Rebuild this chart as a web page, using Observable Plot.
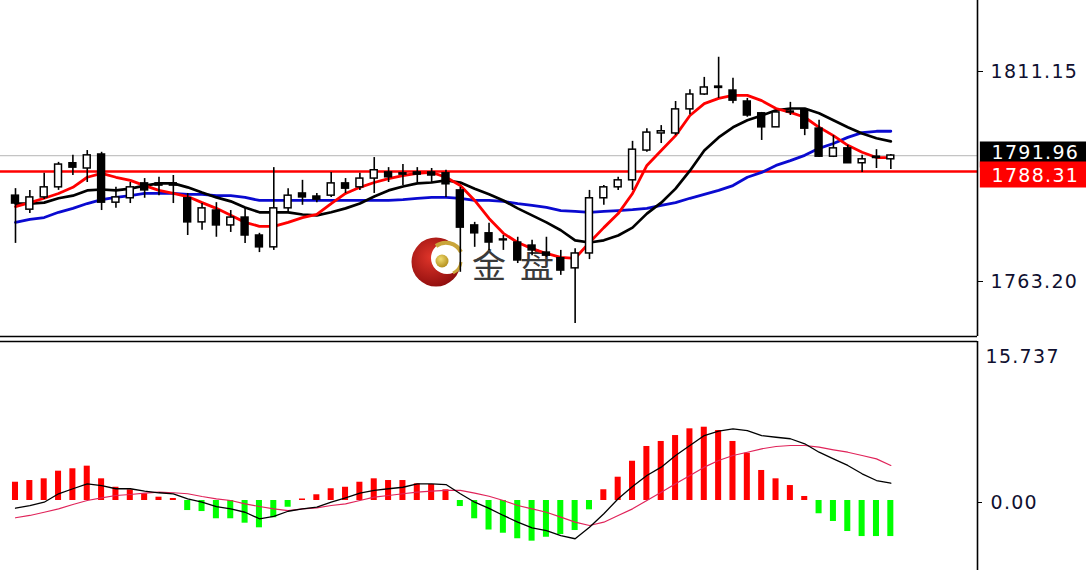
<!DOCTYPE html>
<html>
<head>
<meta charset="utf-8">
<script src="https://cdn.jsdelivr.net/npm/d3@7"></script>
<script src="https://cdn.jsdelivr.net/npm/@observablehq/plot@0.6"></script>
<style>
  html, body { margin: 0; padding: 0; background: #fff; }
  #wrap { position: relative; width: 1086px; height: 570px; overflow: hidden; background: #fff; }
  #wrap svg.plotsvg { display: block; position: relative; z-index: 1; }
  #mark { position: absolute; left: 0; top: 0; z-index: 0; }
</style>
</head>
<body>
<div id="wrap"></div>
<script>
// ---- Price candles ----
const open = [1782.8,1779.6,1782.4,1784.7,1790.2,1789.0,1792.2,1781.2,1782.2,1785.6,
  1785.6,1785.6,1782.2,1776.7,1779.4,1776.0,1777.8,1773.7,1771.0,1779.9,
  1783.3,1782.6,1782.8,1785.6,1784.7,1786.7,1788.1,1787.6,1788.1,1788.1,
  1787.9,1784.0,1776.0,1774.2,1772.6,1772.1,1771.4,1769.8,1768.5,1766.2,
  1769.6,1782.2,1784.7,1786.3,1793.1,1797.0,1797.0,1802.5,1805.9,1807.4,
  1806.8,1804.3,1801.6,1798.4,1802.0,1802.3,1798.1,1791.7,1793.6,1790.2,
  1791.4,1791.1];
const high = [1784.4,1784.0,1787.9,1790.4,1792.0,1793.1,1792.7,1784.7,1785.8,1786.7,
  1787.0,1787.4,1783.3,1781.0,1781.2,1779.4,1779.9,1774.2,1789.2,1784.4,
  1786.3,1783.3,1788.1,1786.7,1787.9,1791.5,1789.2,1789.9,1789.2,1789.0,
  1788.6,1784.7,1776.7,1776.5,1773.7,1773.3,1772.6,1773.3,1770.3,1770.7,
  1784.0,1785.1,1787.0,1795.2,1798.1,1798.8,1804.3,1807.0,1809.8,1814.4,
  1809.6,1805.0,1801.8,1802.3,1804.1,1802.7,1800.0,1796.5,1794.3,1792.0,
  1793.3,1792.2];
const low = [1771.9,1778.7,1781.9,1784.0,1787.4,1785.8,1779.4,1779.9,1781.0,1782.2,
  1782.8,1781.0,1773.7,1774.9,1773.3,1774.4,1771.9,1769.8,1770.3,1779.0,
  1780.6,1781.2,1782.4,1783.3,1784.0,1783.3,1785.8,1785.1,1785.8,1785.6,
  1782.4,1765.3,1771.0,1770.3,1770.3,1767.3,1769.1,1768.7,1764.6,1753.6,
  1768.2,1780.6,1784.0,1784.0,1792.7,1794.7,1796.5,1801.3,1805.7,1805.0,
  1803.8,1800.7,1795.4,1798.4,1801.1,1796.5,1791.5,1791.5,1790.2,1788.1,
  1789.0,1788.8];
const close = [1781.0,1782.4,1784.7,1789.9,1789.2,1792.0,1781.2,1782.4,1784.7,1784.0,
  1785.1,1785.1,1776.7,1779.9,1776.0,1777.8,1773.7,1771.0,1779.9,1782.8,
  1782.4,1781.9,1785.6,1784.4,1786.7,1788.6,1787.0,1787.9,1787.6,1787.4,
  1785.4,1775.5,1774.2,1772.1,1772.8,1768.0,1770.3,1769.1,1765.7,1769.6,
  1782.2,1784.7,1786.3,1793.3,1797.2,1797.5,1802.5,1805.9,1807.5,1807.7,
  1804.5,1801.1,1798.4,1801.8,1801.8,1798.1,1791.7,1793.6,1790.2,1791.1,
  1791.7,1791.96];

// ---- Moving averages ----
const maFast = [1780.3,1781.2,1782.2,1783.3,1784.7,1787.0,1787.9,1787.0,1786.3,1785.1,
  1784.0,1783.3,1782.6,1781.2,1779.9,1778.3,1776.7,1775.8,1775.8,1776.7,
  1777.8,1778.5,1781.0,1783.3,1784.7,1785.8,1786.7,1787.4,1787.9,1788.1,
  1787.0,1785.1,1781.7,1777.6,1774.2,1772.1,1770.7,1769.6,1768.7,1768.5,
  1772.1,1775.5,1778.7,1783.3,1789.7,1793.1,1796.5,1801.1,1803.8,1805.0,
  1805.7,1805.7,1804.5,1802.7,1801.8,1800.7,1798.4,1796.5,1794.3,1792.7,
  1791.5,1791.5];
const maMid = [1781.0,1781.0,1781.2,1782.2,1782.8,1784.0,1784.2,1784.0,1784.4,1785.1,
  1785.6,1785.6,1784.7,1783.5,1782.4,1781.5,1780.1,1779.0,1779.0,1779.0,
  1778.5,1778.3,1779.0,1779.9,1781.0,1782.6,1784.0,1784.9,1785.6,1785.8,
  1786.3,1785.8,1784.4,1783.1,1781.7,1779.9,1778.3,1776.7,1774.9,1772.6,
  1772.1,1772.6,1773.7,1775.5,1778.7,1781.2,1784.4,1788.5,1793.1,1796.1,
  1798.4,1800.0,1801.1,1802.3,1802.7,1802.7,1801.6,1800.0,1798.4,1797.0,
  1795.9,1795.2];
const maSlow = [1776.7,1777.4,1777.8,1779.0,1779.9,1781.0,1781.9,1782.4,1782.8,1783.3,
  1783.3,1783.3,1783.1,1783.1,1782.8,1782.8,1782.4,1781.7,1781.7,1781.7,
  1781.7,1781.7,1781.7,1781.7,1781.7,1781.7,1781.7,1781.9,1782.2,1782.4,
  1782.4,1782.2,1781.7,1781.7,1781.5,1781.0,1780.6,1780.1,1779.4,1779.2,
  1779.0,1779.2,1779.4,1779.6,1779.9,1780.6,1781.2,1782.2,1783.1,1784.0,
  1785.1,1787.0,1788.1,1789.7,1790.8,1792.0,1793.6,1794.7,1796.1,1797.2,
  1797.5,1797.5];

// ---- MACD panel ----
const macdHist = [1.82,1.99,2.16,2.92,3.16,3.42,2.16,1.32,1.06,0.67,
  0.33,0.2,-1.0,-1.1,-1.82,-1.82,-2.26,-2.72,-1.72,-0.67,
  0.15,0.57,1.17,1.32,1.82,2.16,1.99,1.99,1.66,1.59,
  1.06,-0.6,-1.82,-2.94,-3.26,-3.81,-4.05,-3.66,-3.39,-2.99,
  -0.93,1.07,2.32,3.91,5.38,5.88,6.47,7.14,7.30,6.97,
  5.88,4.71,2.99,2.16,1.49,0.40,-1.32,-2.09,-3.09,-3.59,
  -3.59,-3.59];
const macdMain = [-0.77,-0.50,-0.17,0.67,1.17,1.66,1.49,1.17,1.17,0.93,
  0.77,0.67,0.17,-0.17,-0.60,-0.83,-1.17,-1.82,-1.59,-1.07,
  -0.83,-0.67,-0.17,0.27,0.73,1.00,1.17,1.32,1.66,1.66,
  1.59,0.67,-0.17,-0.78,-1.49,-2.16,-2.72,-2.99,-3.49,-3.81,
  -2.66,-1.32,0.17,1.39,2.49,3.32,4.48,5.48,6.47,6.90,
  7.14,6.97,6.47,6.30,6.15,5.65,4.81,4.15,3.49,2.66,
  1.99,1.72];
const macdSignal = [-1.72,-1.49,-1.17,-0.83,-0.40,0.00,0.27,0.50,0.60,0.73,
  0.83,0.77,0.67,0.40,0.17,0.00,-0.33,-0.60,-0.83,-1.00,
  -0.83,-0.73,-0.50,-0.33,0.00,0.33,0.50,0.67,0.83,0.93,
  1.00,1.00,0.73,0.42,0.00,-0.50,-0.83,-1.17,-1.66,-2.16,
  -2.49,-2.16,-1.49,-0.83,0.00,0.83,1.66,2.49,3.32,3.98,
  4.48,4.81,5.15,5.38,5.48,5.48,5.31,5.05,4.81,4.48,
  4.15,3.49];

// ---- Axis / levels ----
const priceTicks = [1811.15, 1763.20];
const levelBid = 1791.96;   // gray line + black label
const levelRed = 1788.31;   // red horizontal line + red label
const macdTicks = [15.737, 0];

const idx = open.map((_, i) => i);
const xDomain = [-1.045, 67.04];
const priceDomain = [1750.64, 1827.36];
const macdDomain = [-6.972, 15.837];
const FONT = "font-family:'DejaVu Sans',Verdana,sans-serif;font-size:19px;letter-spacing:1.3px;color:#101030;background:transparent;";

const main = Plot.plot({
  width: 1086, height: 338,
  marginLeft: 0, marginRight: 109, marginTop: 0, marginBottom: 2,
  style: FONT,
  x: {domain: xDomain, axis: null},
  y: {domain: priceDomain, axis: null},
  marks: [
    Plot.ruleY([levelBid], {stroke: "#c4c4c4", strokeWidth: 1.2}),
    Plot.ruleY([levelRed], {stroke: "#ff0000", strokeWidth: 2.6}),
    Plot.line(idx, {x: i => i, y: i => maSlow[i], stroke: "#0a0ad0", strokeWidth: 2.8}),
    Plot.line(idx, {x: i => i, y: i => maMid[i], stroke: "#000000", strokeWidth: 2.7}),
    Plot.line(idx, {x: i => i, y: i => maFast[i], stroke: "#ff0000", strokeWidth: 2.8}),
    Plot.ruleX(idx, {x: i => i, y1: i => low[i], y2: i => high[i], stroke: "#000", strokeWidth: 1.6}),
    Plot.rect(idx, {
      x1: i => i - 0.24, x2: i => i + 0.24,
      y1: i => open[i], y2: i => close[i],
      fill: i => close[i] >= open[i] ? "#ffffff" : "#000000",
      stroke: "#000", strokeWidth: 1.5
    }),
    Plot.ruleX([xDomain[1]], {stroke: "#000", strokeWidth: 1.6}),
    Plot.ruleY([priceDomain[0]], {stroke: "#000", strokeWidth: 1.6}),
    Plot.axisY({anchor: "right", ticks: priceTicks, tickFormat: d => d.toFixed(2),
      tickSize: 5, tickPadding: 8, fontSize: 19, stroke: "#000"}),
    Plot.ruleY([levelBid], {x1: () => xDomain[1] + 0.2, x2: () => xDomain[1] + 8, stroke: "#000", strokeWidth: 26, dy: -1}),
    Plot.text([levelBid], {y: d => d, frameAnchor: "right", text: d => d.toFixed(2), textAnchor: "start", dx: 14, dy: -3, fill: "#fff", fontSize: 19}),
    Plot.ruleY([levelRed], {x1: () => xDomain[1] + 0.2, x2: () => xDomain[1] + 8, stroke: "#ff0000", strokeWidth: 26, dy: 3}),
    Plot.text([levelRed], {y: d => d, frameAnchor: "right", text: d => d.toFixed(2), textAnchor: "start", dx: 14, dy: 4, fill: "#fff", fontSize: 19})
  ]
});
main.classList.add("plotsvg");

const macd = Plot.plot({
  width: 1086, height: 232,
  marginLeft: 0, marginRight: 109, marginTop: 3, marginBottom: 0,
  style: FONT,
  x: {domain: xDomain, axis: null},
  y: {domain: macdDomain, axis: null},
  marks: [
    Plot.rect(idx, {
      x1: i => i - 0.21, x2: i => i + 0.21,
      y1: () => 0, y2: i => macdHist[i],
      fill: i => macdHist[i] >= 0 ? "#ff0000" : "#00ff00"
    }),
    Plot.line(idx, {x: i => i, y: i => macdSignal[i], stroke: "#e0245a", strokeWidth: 1.2}),
    Plot.line(idx, {x: i => i, y: i => macdMain[i], stroke: "#000", strokeWidth: 1.3}),
    Plot.ruleX([xDomain[1]], {stroke: "#000", strokeWidth: 1.6}),
    Plot.ruleY([macdDomain[1]], {stroke: "#000", strokeWidth: 1.6}),
    Plot.axisY({anchor: "right", ticks: [macdTicks[1]], tickFormat: d => d.toFixed(2),
      tickSize: 4, tickPadding: 9, fontSize: 19, dy: 2, stroke: "#000"}),
    Plot.text([macdTicks[0]], {y: d => d, frameAnchor: "right", text: d => String(d), textAnchor: "start", dx: 8, dy: 14, fill: "#101030", fontSize: 19})
  ]
});
macd.classList.add("plotsvg");

const wrap = document.getElementById("wrap");
// watermark (logo + 金盘) behind the chart
wrap.insertAdjacentHTML("beforeend", `
<svg id="mark" width="1086" height="570" xmlns="http://www.w3.org/2000/svg">
  <defs>
    <radialGradient id="rg" cx="40%" cy="40%" r="65%">
      <stop offset="0%" stop-color="#e0352a"/>
      <stop offset="100%" stop-color="#8e0d0d"/>
    </radialGradient>
    <radialGradient id="gg" cx="40%" cy="35%" r="70%">
      <stop offset="0%" stop-color="#f0dc70"/>
      <stop offset="100%" stop-color="#b08a18"/>
    </radialGradient>
  </defs>
  <circle cx="436" cy="262" r="24.5" fill="url(#rg)"/>
  <circle cx="447" cy="258" r="16" fill="#fff"/>
  <path d="M 436 246 A 17 17 0 0 1 461 252" stroke="#c9a53a" stroke-width="4" fill="none"/>
  <path d="M 453 273 A 14 14 0 0 0 461 262" stroke="#c9a53a" stroke-width="3" fill="none"/>
  <circle cx="442" cy="261" r="6.5" fill="url(#gg)"/>
  <text x="472" y="278" font-family="'Noto Sans CJK SC'" font-size="34" fill="#3a3a3a">金</text>
  <text x="520" y="278" font-family="'Noto Sans CJK SC'" font-size="34" fill="#3a3a3a">盘</text>
</svg>`);
wrap.appendChild(main);
wrap.appendChild(macd);
</script>
</body>
</html>
